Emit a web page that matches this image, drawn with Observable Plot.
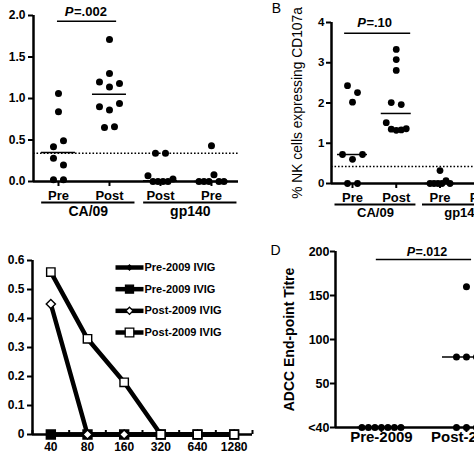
<!DOCTYPE html>
<html><head><meta charset="utf-8">
<script src="https://cdn.jsdelivr.net/npm/d3@7"></script>
<script src="https://cdn.jsdelivr.net/npm/@observablehq/plot@0.6"></script>
<style>
html,body{margin:0;padding:0;background:#fff;}
body{width:474px;height:474px;overflow:hidden;position:relative;}
.panel{position:absolute;}
.panel svg{display:block;max-width:none !important;}
</style></head><body>
<div id="A" class="panel" style="left:0;top:0;width:240px;height:225px"></div>
<div id="B" class="panel" style="left:260px;top:0;width:250px;height:225px"></div>
<div id="C" class="panel" style="left:0;top:240px;width:262px;height:234px"></div>
<div id="CL" class="panel" style="left:110px;top:255px;width:150px;height:90px"></div>
<div id="D" class="panel" style="left:262px;top:240px;width:257px;height:234px"></div>
<script>
// ---------------- DATA ----------------
// Panel A
const catsA = ["Pre", "Post", "Post", "Pre"];
const groupNamesA = ["CA/09", "gp140"];
const groupMembersA = [[0, 1], [2, 3]];
const aCA09Pre = [1.06, 0.84, 0.42, 0.49, 0.28, 0.20, 0.02, 0.02];
const aCA09Post = [1.71, 1.30, 1.20, 1.14, 1.18, 0.90, 0.86, 0.94, 0.65, 0.66];
const aGpPost = [0.34, 0.34, 0.07, 0, 0, 0, 0, 0.03];
const aGpPre = [0.43, 0, 0, 0, 0.08, 0, 0];
const aMedians = [0.35, 1.05, 0.01, 0];
const aCutoff = 0.34;
const aYTicks = [0, 0.5, 1.0, 1.5, 2.0];
const aYTickLabels = ["0.0", "0.5", "1.0", "1.5", "2.0"];
const aPValue = "=.002";

// Panel B
const catsB = ["Pre", "Post", "Pre", "Post"];
const groupNamesB = ["CA/09", "gp140"];
const groupMembersB = [[0, 1], [2, 3]];
const bCA09Pre = [2.43, 2.26, 2.02, 0.72, 0.60, 0.72, 0, 0];
const bCA09Post = [3.33, 3.08, 2.81, 2.01, 1.96, 1.51, 1.35, 1.32, 1.33, 1.36];
const bGpPre = [0.32, 0, 0, 0, 0, 0.07, 0];
const bMedians = [0.72, 1.74, 0];
const bCutoff = 0.42;
const bYTicks = [0, 1, 2, 3, 4];
const bYTickLabels = ["0", "1", "2", "3", "4"];
const bYLabel = "% NK cells expressing CD107a";
const bPValue = "=.10";

// Panel C
const dilutions = [40, 80, 160, 320, 640, 1280];
const seriesNamesC = ["Pre-2009 IVIG", "Pre-2009 IVIG", "Post-2009 IVIG", "Post-2009 IVIG"];
const cPreDiamond = [0, 0, 0, 0, 0, 0];
const cPreSquare = [0, 0, 0, 0, 0, 0];
const cPostDiamond = [0.45, 0, 0, 0, 0, 0];
const cPostSquare = [0.56, 0.33, 0.18, 0, 0, 0];
const cYTicks = [0, 0.1, 0.2, 0.3, 0.4, 0.5, 0.6];
const cYTickLabels = ["0", "0.1", "0.2", "0.3", "0.4", "0.5", "0.6"];

// Panel D
const catsD = ["Pre-2009", "Post-2009"];
const dPre = [0, 0, 0, 0, 0, 0, 0];
const dPost = [160, 80, 80, 80, 0, 0, 0];
const dMedians = [0, 80];
const dYTicks = [0, 50, 100, 150, 200];
const dYTickLabels = ["<40", "50", "100", "150", "200"];
const dYLabel = "ADCC End-point Titre";
const dPValue = "=.012";

// ---------------- HELPERS ----------------
const FONT = "'Liberation Sans', Arial, Helvetica, sans-serif";

function swarmOffsets(vals, ppy, threshPx, maxStep, maxWidth) {
  const order = d3.range(vals.length).sort((a, b) => d3.descending(vals[a], vals[b]) || a - b);
  const clusters = [];
  let cur = [];
  for (const i of order) {
    if (cur.length && (vals[cur[cur.length - 1]] - vals[i]) * ppy > threshPx) { clusters.push(cur); cur = []; }
    cur.push(i);
  }
  if (cur.length) clusters.push(cur);
  const off = vals.map(() => 0);
  for (const c of clusters) {
    c.sort((a, b) => a - b);
    const n = c.length;
    const step = n > 1 ? Math.min(maxStep, maxWidth / (n - 1)) : 0;
    c.forEach((i, k) => off[i] = (k - (n - 1) / 2) * step);
  }
  return off;
}

function scatterPanel(o) {
  const [x0, x1] = o.xDomain;
  const [y0, y1] = o.yDomain;
  const ppx = (o.width - o.ml - o.mr) / (x1 - x0);
  const ppy = (o.height - o.mt - o.mb) / (y1 - y0);
  const pts = [];
  o.series.forEach((vals, g) => {
    const offs = swarmOffsets(vals, ppy, 7.8, o.maxStep, o.maxWidth);
    vals.forEach((v, i) => pts.push({g, v, x: g + offs[i] / ppx}));
  });
  const groups = (o.groupNames || []).map((name, k) => {
    const m = o.groupMembers[k];
    const a = m[0] - o.gPadL, b = m[m.length - 1] + o.gPadR;
    return {name, a, b, mid: (a + b) / 2};
  });
  const medHalf = o.medHalfPx / ppx;
  const marks = [];
  if (o.cutoff != null) marks.push(Plot.ruleY([o.cutoff], {x1: x0, x2: x1, strokeWidth: 1.5, strokeDasharray: "1.6,1.9"}));
  marks.push(
    Plot.ruleY(o.medians.map((m, g) => ({g, m})), {x1: d => d.g - medHalf, x2: d => d.g + medHalf, y: "m", strokeWidth: 1.5}),
    Plot.dot(pts, {x: "x", y: "v", r: o.r, fill: "black", stroke: "none"}),
    Plot.ruleX([x0], {y1: y0, y2: y1, strokeWidth: 2.5}),
    Plot.ruleY([y0], {x1: x0, x2: x1, strokeWidth: 2.5}),
    Plot.ruleY(o.yTicks, {x1: x0 - 5 / ppx, x2: x0, strokeWidth: 2}),
    Plot.text(o.yTicks, {x: x0, y: d => d, text: (d, i) => o.yTickLabels[i], textAnchor: "end", lineAnchor: "middle", dx: -o.yLabGap, fontSize: o.yFont, fontWeight: "bold"}),
    Plot.ruleX(d3.range(o.cats.length), {y1: y0, y2: y0 - 5 / ppy, strokeWidth: 2}),
    Plot.text(o.cats, {x: (d, i) => i, y: y0, dy: o.catDy, text: d => d, textAnchor: "middle", lineAnchor: "middle", fontSize: o.catFont, fontWeight: "bold"}),
    Plot.ruleY(groups, {x1: "a", x2: "b", y: y0, dy: o.barDy, strokeWidth: 2}),
    Plot.text(groups, {x: "mid", y: y0, dy: o.groupDy, text: "name", textAnchor: "middle", lineAnchor: "middle", fontSize: o.groupFont, fontWeight: "bold"}),
    Plot.ruleY([o.sig], {x1: d => d.x1, x2: d => d.x2, y: d => d.y, strokeWidth: 1.5}),
    Plot.text([o.sig], {x: d => d.tx, y: d => d.ty, text: () => "P", textAnchor: "end", lineAnchor: "middle", dx: o.sig.split, fontStyle: "italic", fontWeight: "bold", fontSize: o.sig.font}),
    Plot.text([o.sig], {x: d => d.tx, y: d => d.ty, text: d => d.label, textAnchor: "start", lineAnchor: "middle", dx: o.sig.split + 0.5, fontWeight: "bold", fontSize: o.sig.font})
  );
  if (o.yLabel) marks.push(Plot.text([o.yLabel], {frameAnchor: "left", rotate: -90, dx: o.yLabelDx, textAnchor: "middle", lineAnchor: "middle", fontSize: o.yLabelFont, fontWeight: o.yLabelWeight}));
  if (o.letter) marks.push(Plot.text([o.letter], {frameAnchor: "top-left", dx: o.letterDx, dy: o.letterDy, textAnchor: "middle", lineAnchor: "middle", fontSize: 14, fontWeight: "normal"}));
  return Plot.plot({
    width: o.width, height: o.height,
    marginLeft: o.ml, marginRight: o.mr, marginTop: o.mt, marginBottom: o.mb,
    x: {domain: o.xDomain, axis: null},
    y: {domain: o.yDomain, axis: null},
    style: {fontFamily: FONT, fontSize: "12px", background: "transparent", overflow: "visible", maxWidth: "none"},
    marks
  });
}

// ---------------- PANEL A ----------------
document.getElementById("A").append(scatterPanel({
  width: 240, height: 225, ml: 33, mr: 2, mt: 15, mb: 44,
  xDomain: [-0.49, 3.53], yDomain: [0, 2],
  series: [aCA09Pre, aCA09Post, aGpPost, aGpPre], medians: aMedians, cutoff: aCutoff,
  maxStep: 10, maxWidth: 25, r: 3.5, medHalfPx: 17,
  yTicks: aYTicks, yTickLabels: aYTickLabels, yFont: 12, yLabGap: 8,
  cats: catsA, catDy: 14, catFont: 13,
  groupNames: groupNamesA, groupMembers: groupMembersA, gPadL: 0.33, gPadR: 0.5,
  barDy: 21, groupDy: 30.5, groupFont: 14,
  sig: {x1: -0.02, x2: 1.14, y: 1.93, tx: 0.53, ty: 2.04, label: aPValue, split: -12, font: 13}
}));

// ---------------- PANEL B ----------------
document.getElementById("B").append(scatterPanel({
  width: 250, height: 225, ml: 71, mr: 4, mt: 22, mb: 42,
  xDomain: [-0.48, 3.52], yDomain: [0, 4],
  series: [bCA09Pre, bCA09Post, bGpPre], medians: bMedians, cutoff: bCutoff,
  maxStep: 10, maxWidth: 20, r: 3.4, medHalfPx: 15,
  yTicks: bYTicks, yTickLabels: bYTickLabels, yFont: 11.5, yLabGap: 7,
  cats: catsB, catDy: 14.5, catFont: 13,
  groupNames: groupNamesB, groupMembers: groupMembersB, gPadL: 0.4, gPadR: 0.45,
  barDy: 21, groupDy: 29.5, groupFont: 13,
  sig: {x1: -0.18, x2: 1.33, y: 3.73, tx: 0.5, ty: 4.0, label: bPValue, split: -8.5, font: 13},
  yLabel: bYLabel, yLabelDx: -34, yLabelFont: 13.8, yLabelWeight: "normal",
  letter: "B", letterDx: -55, letterDy: -14
}));

// ---------------- PANEL D ----------------
document.getElementById("D").append(scatterPanel({
  width: 257, height: 234, ml: 73, mr: 2, mt: 11, mb: 47,
  xDomain: [-0.54, 1.6], yDomain: [0, 200],
  series: [dPre, dPost], medians: dMedians, cutoff: null,
  maxStep: 10, maxWidth: 39, r: 3.5, medHalfPx: 24,
  yTicks: dYTicks, yTickLabels: dYTickLabels, yFont: 12.5, yLabGap: 6,
  cats: catsD, catDy: 10, catFont: 15,
  groupNames: [], groupMembers: [], gPadL: 0, gPadR: 0, barDy: 0, groupDy: 0, groupFont: 12,
  sig: {x1: -0.06, x2: 1.06, y: 191, tx: 0.53, ty: 200, label: dPValue, split: -11.5, font: 12.5},
  yLabel: dYLabel, yLabelDx: -46, yLabelFont: 14, yLabelWeight: "bold",
  letter: "D", letterDx: -60, letterDy: -1
}));

// ---------------- PANEL C ----------------
function makeSymbol(kind) {
  return {
    draw(ctx, size) {
      const h = Math.sqrt(size / Math.PI);
      if (kind === "square") { ctx.moveTo(-h, -h); ctx.lineTo(h, -h); ctx.lineTo(h, h); ctx.lineTo(-h, h); ctx.closePath(); }
      else { ctx.moveTo(0, -h); ctx.lineTo(h, 0); ctx.lineTo(0, h); ctx.lineTo(-h, 0); ctx.closePath(); }
    }
  };
}
const seriesC = [cPreDiamond, cPreSquare, cPostDiamond, cPostSquare];
const styleC = [
  {sym: makeSymbol("diamond"), r: 3, fill: "black", lr: 2.5},
  {sym: makeSymbol("square"), r: 4.5, fill: "black", lr: 4},
  {sym: makeSymbol("diamond"), r: 4.6, fill: "white", lr: 3.6},
  {sym: makeSymbol("square"), r: 4.2, fill: "white", lr: 4.3}
];
{
  const xmin = 40 / Math.SQRT2, xmax = 1280 * Math.SQRT2;
  const W = 262, H = 234, ml = 32, mr = 10, mt = 20, mb = 40;
  const ppd = (W - ml - mr) / Math.log2(xmax / xmin);
  const ppy = (H - mt - mb) / 0.6;
  const bounds = dilutions.map(d => d / Math.SQRT2).concat([xmax]);
  const marks = [
    Plot.ruleX([xmin], {y1: 0, y2: 0.6, strokeWidth: 2.5}),
    Plot.ruleY([0], {x1: xmin, x2: xmax, strokeWidth: 2.5}),
    Plot.ruleY(cYTicks, {x1: xmin / Math.pow(2, 5 / ppd), x2: xmin, strokeWidth: 2}),
    Plot.ruleX(bounds, {y1: 0, y2: 4 / ppy, strokeWidth: 2}),
    Plot.text(cYTicks, {x: xmin, y: d => d, text: (d, i) => cYTickLabels[i], textAnchor: "end", lineAnchor: "middle", dx: -8, fontSize: 12, fontWeight: "bold"}),
    Plot.text(dilutions, {x: d => d, y: 0, dy: 13, text: d => String(d), textAnchor: "middle", lineAnchor: "middle", fontSize: 12, fontWeight: "bold"})
  ];
  seriesC.forEach((vals, s) => {
    const data = vals.map((v, i) => ({x: dilutions[i], y: v}));
    marks.push(Plot.line(data, {x: "x", y: "y", stroke: "black", strokeWidth: 4.5, strokeLinejoin: "round"}));
    marks.push(Plot.dot(data, {x: "x", y: "y", symbol: styleC[s].sym, r: styleC[s].r, fill: styleC[s].fill, stroke: "black", strokeWidth: 1.4}));
  });
  document.getElementById("C").append(Plot.plot({
    width: W, height: H, marginLeft: ml, marginRight: mr, marginTop: mt, marginBottom: mb,
    x: {type: "log", base: 2, domain: [xmin, xmax], axis: null},
    y: {domain: [0, 0.6], axis: null},
    style: {fontFamily: FONT, fontSize: "12px", background: "transparent", overflow: "visible", maxWidth: "none"},
    marks
  }));

  // legend
  const rows = seriesNamesC.map((name, i) => ({name, i}));
  const lmarks = [Plot.link(rows, {x1: 0, x2: 1, y1: "i", y2: "i", stroke: "black", strokeWidth: 4.5})];
  rows.forEach(r => lmarks.push(Plot.dot([r], {x: 0.5, y: "i", symbol: styleC[r.i].sym, r: styleC[r.i].lr, fill: styleC[r.i].fill, stroke: "black", strokeWidth: 1.3})));
  lmarks.push(Plot.text(rows, {x: 1, y: "i", text: "name", textAnchor: "start", lineAnchor: "middle", dx: 1, fontSize: 11, fontWeight: "bold"}));
  document.getElementById("CL").append(Plot.plot({
    width: 150, height: 90, margin: 0,
    x: {domain: [0, 1], range: [5, 33], axis: null},
    y: {domain: [0, 3], range: [12, 77], axis: null},
    style: {fontFamily: FONT, fontSize: "11px", background: "transparent", overflow: "visible", maxWidth: "none"},
    marks: lmarks
  }));
}
</script>
</body></html>
